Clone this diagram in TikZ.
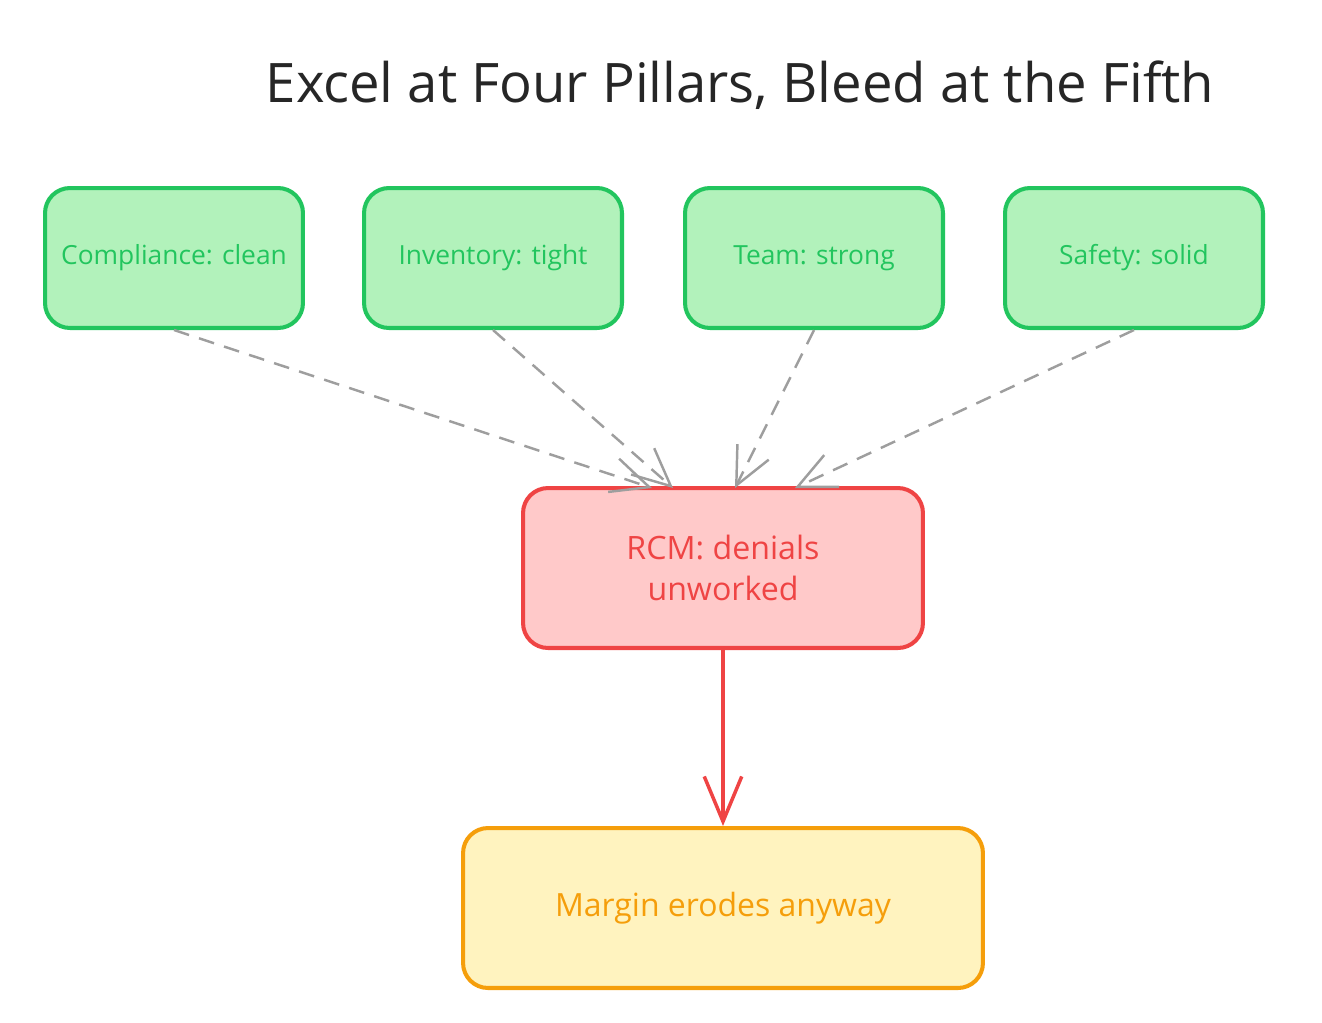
\documentclass[tikz,border=0pt]{standalone}
\usepackage{fontspec}
\setmainfont{Open Sans}
\usetikzlibrary{arrows.meta}
\definecolor{pillarline}{HTML}{22C55E}
\definecolor{pillarfill}{HTML}{B2F2BB}
\definecolor{rcmline}{HTML}{EF4444}
\definecolor{rcmfill}{HTML}{FFC9C9}
\definecolor{marginline}{HTML}{F59E0B}
\definecolor{marginfill}{HTML}{FFF3BF}
\definecolor{linkgray}{HTML}{9E9E9E}
\tikzset{
  % boxes
  pillar/.style={draw=pillarline,fill=pillarfill,line width=2.3pt,rounded corners=0.5cm,
    minimum width=5.16cm,minimum height=2.8cm,text=pillarline,font=\fontsize{15}{18}\selectfont},
  weak/.style={draw=rcmline,fill=rcmfill,line width=2.3pt,rounded corners=0.5cm,
    minimum width=8cm,minimum height=3.2cm,text=rcmline,align=center,font=\fontsize{18.3}{23}\selectfont},
  result/.style={draw=marginline,fill=marginfill,line width=2.3pt,rounded corners=0.5cm,
    minimum width=10.4cm,minimum height=3.2cm,text=marginline,font=\fontsize{18.2}{23}\selectfont},
  % connectors
  feeds/.style={draw=linkgray,line width=1.4pt,dash pattern=on 9pt off 6pt,
    -{Straight Barb[length=0.75cm,width=0.7cm,line width=1.4pt]}},
  leads/.style={draw=rcmline,line width=2pt,
    -{Straight Barb[length=0.9cm,width=0.75cm,line width=2pt]}},
}
\begin{document}
\begin{tikzpicture}[x=0.02cm,y=-0.02cm]
\useasboundingbox (0,0) rectangle (1322,1022);
\node[font=\fontsize{31}{37}\selectfont,text=black!85] (title) at (740,85) {Excel at Four Pillars, Bleed at the Fifth};

\node[pillar] (comp) at (174,258) {Compliance: clean};
\node[pillar] (inv) at (493,258) {Inventory: tight};
\node[pillar] (team) at (814,258) {Team: strong};
\node[pillar] (safe) at (1134,258) {Safety: solid};

\node[weak] (rcm) at (723,568) {RCM: denials\\unworked};
\node[result] (margin) at (723,908) {Margin erodes anyway};

\coordinate (in1) at (652,488);
\coordinate (in2) at (673,488);
\coordinate (in3) at (735,488);
\coordinate (in4) at (795,488);

\draw[feeds] (comp.south) -- (in1);
\draw[feeds] (inv.south) -- (in2);
\draw[feeds] (team.south) -- (in3);
\draw[feeds] (safe.south) -- (in4);
\draw[leads] (rcm.south) -- (margin.north);
\end{tikzpicture}
\end{document}
